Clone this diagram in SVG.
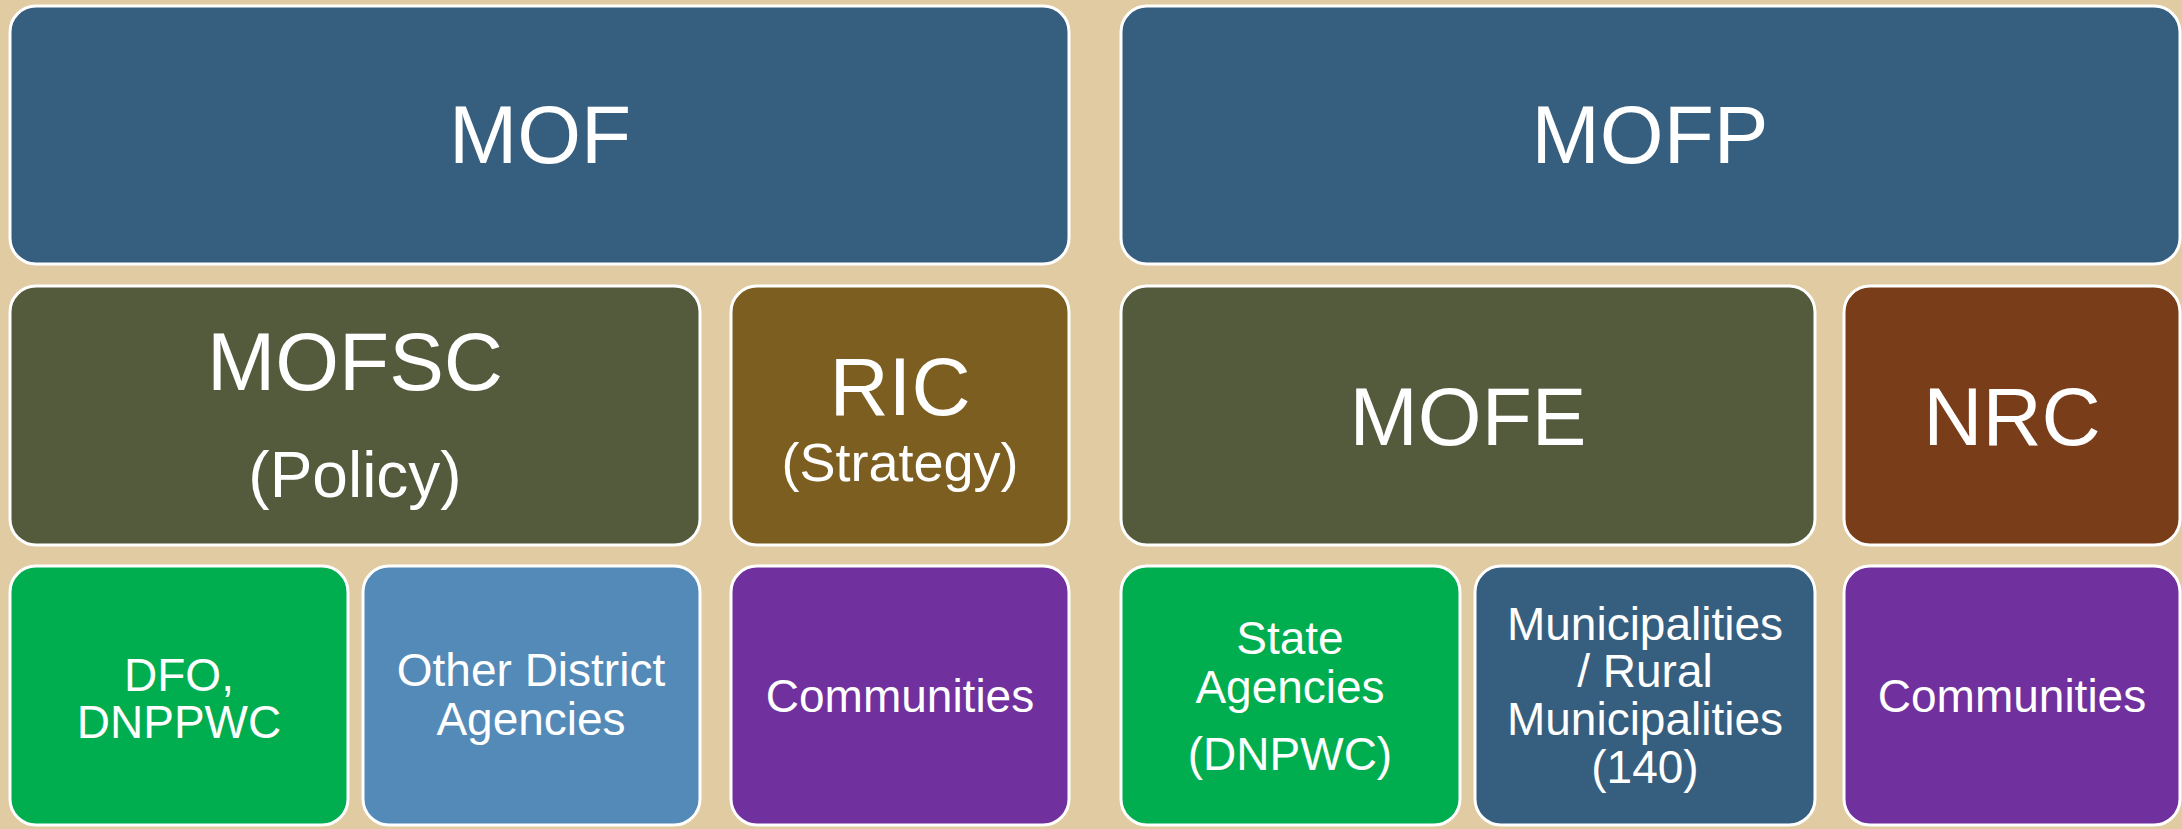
<svg xmlns="http://www.w3.org/2000/svg" width="2182" height="829" viewBox="0 0 2182 829">
<style>
.b{stroke:#ffffff;stroke-width:3}
.t{fill:#ffffff;font-family:"Liberation Sans",Arial,sans-serif;text-anchor:middle}
.xl{font-size:82px}
.m{font-size:64px}
.s{font-size:54px}
.sm{font-size:46px}
</style>
<rect width="2182" height="829" fill="#E0CBA3"/>
<g id="connectors"/>
<g id="MOF"><rect class="b" x="10" y="6" width="1059" height="258" rx="26" fill="#365E7E"/><text class="t xl" x="540" y="163">MOF</text></g>
<g id="MOFP"><rect class="b" x="1121" y="6" width="1059" height="258" rx="26" fill="#365E7E"/><text class="t xl" x="1650" y="163">MOFP</text></g>
<g id="MOFSC"><rect class="b" x="10" y="286" width="690" height="259" rx="26" fill="#545A3C"/><text class="t xl" x="355" y="390">MOFSC</text><text class="t m" x="355" y="497">(Policy)</text></g>
<g id="RIC"><rect class="b" x="731" y="286" width="338" height="259" rx="26" fill="#7B5E20"/><text class="t xl" x="900" y="415">RIC</text><text class="t s" x="900" y="481">(Strategy)</text></g>
<g id="MOFE"><rect class="b" x="1121" y="286" width="694" height="259" rx="26" fill="#545A3C"/><text class="t xl" x="1468" y="445">MOFE</text></g>
<g id="NRC"><rect class="b" x="1844" y="286" width="336" height="259" rx="26" fill="#7A3D1A"/><text class="t xl" x="2012" y="445">NRC</text></g>
<g id="DFO"><rect class="b" x="10" y="566" width="338" height="259" rx="26" fill="#00AE50"/><text class="t sm" x="179" y="691">DFO,</text><text class="t sm" x="179" y="738">DNPPWC</text></g>
<g id="OtherDistrict"><rect class="b" x="363" y="566" width="337" height="259" rx="26" fill="#548AB8"/><text class="t sm" x="531" y="686">Other District</text><text class="t sm" x="531" y="735">Agencies</text></g>
<g id="Communities1"><rect class="b" x="731" y="566" width="338" height="259" rx="26" fill="#70309E"/><text class="t sm" x="900" y="712">Communities</text></g>
<g id="StateAgencies"><rect class="b" x="1121" y="566" width="339" height="259" rx="26" fill="#00AE50"/><text class="t sm" x="1290" y="654">State</text><text class="t sm" x="1290" y="703">Agencies</text><text class="t sm" x="1290" y="770">(DNPWC)</text></g>
<g id="Municipalities"><rect class="b" x="1475" y="566" width="340" height="259" rx="26" fill="#365E7E"/><text class="t sm" x="1645" y="640">Municipalities</text><text class="t sm" x="1645" y="687">/ Rural</text><text class="t sm" x="1645" y="735">Municipalities</text><text class="t sm" x="1645" y="783">(140)</text></g>
<g id="Communities2"><rect class="b" x="1844" y="566" width="336" height="259" rx="26" fill="#70309E"/><text class="t sm" x="2012" y="712">Communities</text></g>
</svg>
